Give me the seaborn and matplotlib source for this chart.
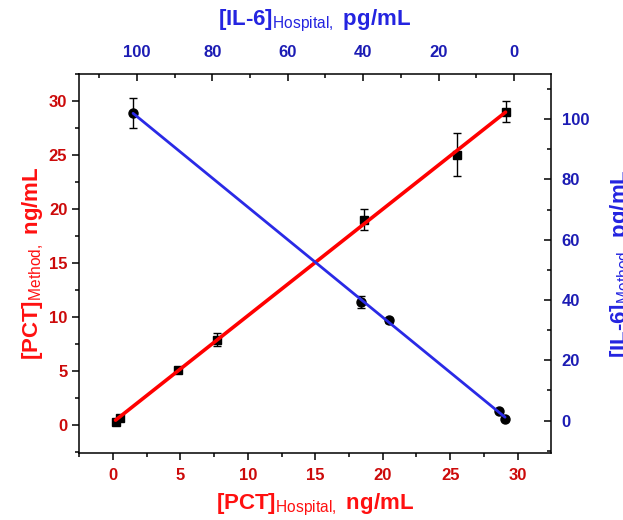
import numpy as np
import pandas as pd
import matplotlib
matplotlib.use("Agg")
import matplotlib.pyplot as plt
import seaborn as sns
from matplotlib.ticker import MultipleLocator

# ---- data ----
pct_hospital = [0.2, 0.5, 4.8, 7.7, 18.6, 25.5, 29.1]
pct_method = [0.3, 0.6, 5.1, 7.9, 19.0, 25.0, 29.0]
pct_err = [0.15, 0.15, 0.2, 0.6, 1.0, 2.0, 1.0]

il6_hospital = [101.0, 40.6, 33.1, 4.0, 2.4]
il6_method = [102.0, 39.3, 33.3, 3.2, 0.7]
il6_err = [5.0, 2.0, 0.8, 0.4, 0.4]

pct_ticks = [0, 5, 10, 15, 20, 25, 30]
il6_ticks = [0, 20, 40, 60, 80, 100]

sns.set_style("ticks")
plt.rcParams["font.family"] = ["Liberation Sans", "DejaVu Sans"]
plt.rcParams["mathtext.fontset"] = "custom"
plt.rcParams["mathtext.rm"] = "Liberation Sans"
plt.rcParams["mathtext.default"] = "rm"

RED_T = "#cc0a0a"
RED_L = "#ff1010"
RED_LINE = "#ff0000"
BLUE_T = "#1c1cb4"
BLUE_L = "#2424e0"
BLUE_LINE = "#2a2ae6"

pct_df = pd.DataFrame({"x": pct_hospital, "y": pct_method})
il6_df = pd.DataFrame({"x": il6_hospital, "y": il6_method})

rect = [0.127, 0.129, 0.757, 0.729]
fig = plt.figure(figsize=(6.23, 5.2), dpi=100)
ax = fig.add_axes(rect)

# PCT series (bottom / left axes)
ax.errorbar(pct_hospital, pct_method, yerr=pct_err, fmt="s", color="black",
            ms=6, capsize=3, elinewidth=1, capthick=1, zorder=2)
sns.regplot(data=pct_df, x="x", y="y", ax=ax, scatter=False, ci=None,
            line_kws=dict(color=RED_LINE, lw=2.6, zorder=3))
ax.set_xlim(-2.5, 32.45)
ax.set_ylim(-2.6, 32.5)
ax.set_xticks(pct_ticks)
ax.set_yticks(pct_ticks)
ax.xaxis.set_minor_locator(MultipleLocator(2.5))
ax.yaxis.set_minor_locator(MultipleLocator(2.5))
ax.tick_params(which="both", direction="out", colors="black", width=1.1,
               top=False, right=False)
ax.tick_params(which="major", length=5, labelsize=12, labelcolor=RED_T)
ax.tick_params(which="minor", length=3)
ax.tick_params(axis="x", pad=6)
for t in ax.get_xticklabels() + ax.get_yticklabels():
    t.set_fontweight("bold")
ax.set_xlabel(r"[PCT]$_{\mathrm{Hospital,}}$ ng/mL", color=RED_L, fontsize=16,
              fontweight="bold", labelpad=6)
ax.set_ylabel(r"[PCT]$_{\mathrm{Method,}}$ ng/mL", color=RED_L, fontsize=16,
              fontweight="bold", labelpad=2)
for s in ax.spines.values():
    s.set_linewidth(1.1)
    s.set_color("black")

# IL-6 series (top / right axes)
ax2 = fig.add_axes(rect)
ax2.patch.set_visible(False)
for s in ax2.spines.values():
    s.set_visible(False)
ax2.errorbar(il6_hospital, il6_method, yerr=il6_err, fmt="o", color="black",
             ms=6.5, capsize=3, elinewidth=1, capthick=1, zorder=2)
sns.regplot(data=il6_df, x="x", y="y", ax=ax2, scatter=False, ci=None,
            line_kws=dict(color=BLUE_LINE, lw=2.0, zorder=3))
ax2.set_xlim(115.3, -9.7)
ax2.set_ylim(-10.7, 115.0)
ax2.xaxis.tick_top()
ax2.xaxis.set_label_position("top")
ax2.yaxis.tick_right()
ax2.yaxis.set_label_position("right")
ax2.set_xticks(il6_ticks)
ax2.set_yticks(il6_ticks)
ax2.xaxis.set_minor_locator(MultipleLocator(10))
ax2.yaxis.set_minor_locator(MultipleLocator(10))
ax2.tick_params(which="both", direction="in", colors="black", width=1.1,
                top=True, right=True, bottom=False, left=False,
                labeltop=True, labelright=True, labelbottom=False, labelleft=False)
ax2.tick_params(which="major", length=5, labelsize=12, labelcolor=BLUE_T)
ax2.tick_params(which="minor", length=3)
ax2.tick_params(axis="x", pad=10)
ax2.tick_params(axis="y", pad=8)
for t in ax2.get_xticklabels() + ax2.get_yticklabels():
    t.set_fontweight("bold")
ax2.set_xlabel(r"[IL-6]$_{\mathrm{Hospital,}}$ pg/mL", color=BLUE_L, fontsize=16,
               fontweight="bold", labelpad=14)
ax2.set_ylabel(r"[IL-6]$_{\mathrm{Method,}}$ pg/mL", color=BLUE_L, fontsize=16,
               fontweight="bold", labelpad=14)

fig.savefig("out.png", dpi=100)
